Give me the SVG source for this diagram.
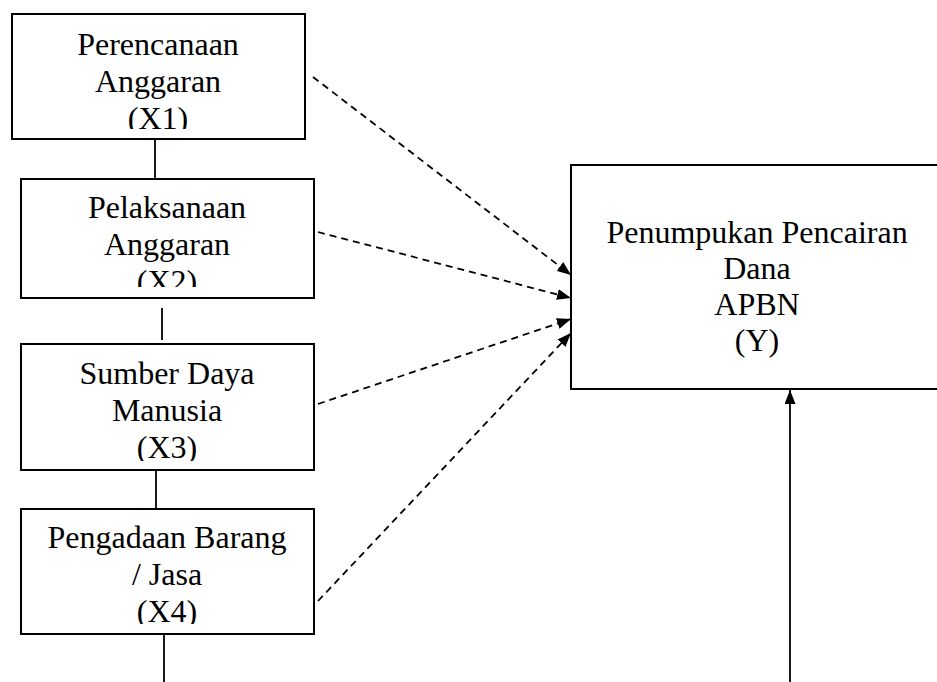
<svg xmlns="http://www.w3.org/2000/svg" width="937" height="682" viewBox="0 0 937 682">
<style>
.box{fill:#fff;stroke:#000;stroke-width:2}
.t{font-family:"Liberation Serif","Times New Roman",serif;font-size:32px;fill:#000;text-anchor:middle}
.solid{stroke:#000;stroke-width:1.8;fill:none}
.dash{stroke:#000;stroke-width:1.8;fill:none;stroke-dasharray:7 5}
</style>
<defs>
<marker id="ah" viewBox="0 0 14 11" refX="14" refY="5.5" markerWidth="14" markerHeight="11" markerUnits="userSpaceOnUse" orient="auto">
<path d="M0,0 L14,5.5 L0,11 Z" fill="#000"/>
</marker>
<clipPath id="c1"><rect x="12" y="14" width="293" height="115"/></clipPath>
<clipPath id="c2"><rect x="21" y="179" width="293" height="108"/></clipPath>
<clipPath id="c3"><rect x="21" y="344" width="293" height="117"/></clipPath>
<clipPath id="c4"><rect x="21" y="509" width="293" height="115"/></clipPath>
</defs>
<g id="connectors">
<line class="solid" x1="155" y1="139" x2="155" y2="179"/>
<line class="solid" x1="162" y1="308" x2="162" y2="340"/>
<line class="solid" x1="156" y1="470" x2="156" y2="509"/>
<line class="solid" x1="164" y1="634" x2="164" y2="682"/>
<line class="solid" x1="790" y1="682" x2="790" y2="390" marker-end="url(#ah)"/>
<line class="dash" x1="313" y1="77" x2="571" y2="275" marker-end="url(#ah)"/>
<line class="dash" x1="318" y1="232" x2="571" y2="298" marker-end="url(#ah)"/>
<line class="dash" x1="318" y1="404" x2="571" y2="319" marker-end="url(#ah)"/>
<line class="dash" x1="318" y1="601" x2="571" y2="333" marker-end="url(#ah)"/>
</g>
<g id="x1">
<rect class="box" x="12" y="14" width="293" height="125"/>
<g clip-path="url(#c1)">
<text class="t" x="158" y="55">Perencanaan</text>
<text class="t" x="158" y="92">Anggaran</text>
<text class="t" x="158" y="129">(X1)</text>
</g>
</g>
<g id="x2">
<rect class="box" x="21" y="179" width="293" height="119"/>
<g clip-path="url(#c2)">
<text class="t" x="167" y="218">Pelaksanaan</text>
<text class="t" x="167" y="255">Anggaran</text>
<text class="t" x="167" y="292">(X2)</text>
</g>
</g>
<g id="x3">
<rect class="box" x="21" y="344" width="293" height="126"/>
<g clip-path="url(#c3)">
<text class="t" x="167" y="384">Sumber Daya</text>
<text class="t" x="167" y="421">Manusia</text>
<text class="t" x="167" y="458">(X3)</text>
</g>
</g>
<g id="x4">
<rect class="box" x="21" y="509" width="293" height="125"/>
<g clip-path="url(#c4)">
<text class="t" x="167" y="548">Pengadaan Barang</text>
<text class="t" x="167" y="585">/ Jasa</text>
<text class="t" x="167" y="622">(X4)</text>
</g>
</g>
<g id="y">
<rect class="box" x="571" y="165" width="373" height="224"/>
<text class="t" x="757" y="243">Penumpukan Pencairan</text>
<text class="t" x="757" y="279">Dana</text>
<text class="t" x="757" y="315">APBN</text>
<text class="t" x="757" y="351">(Y)</text>
</g>
</svg>
